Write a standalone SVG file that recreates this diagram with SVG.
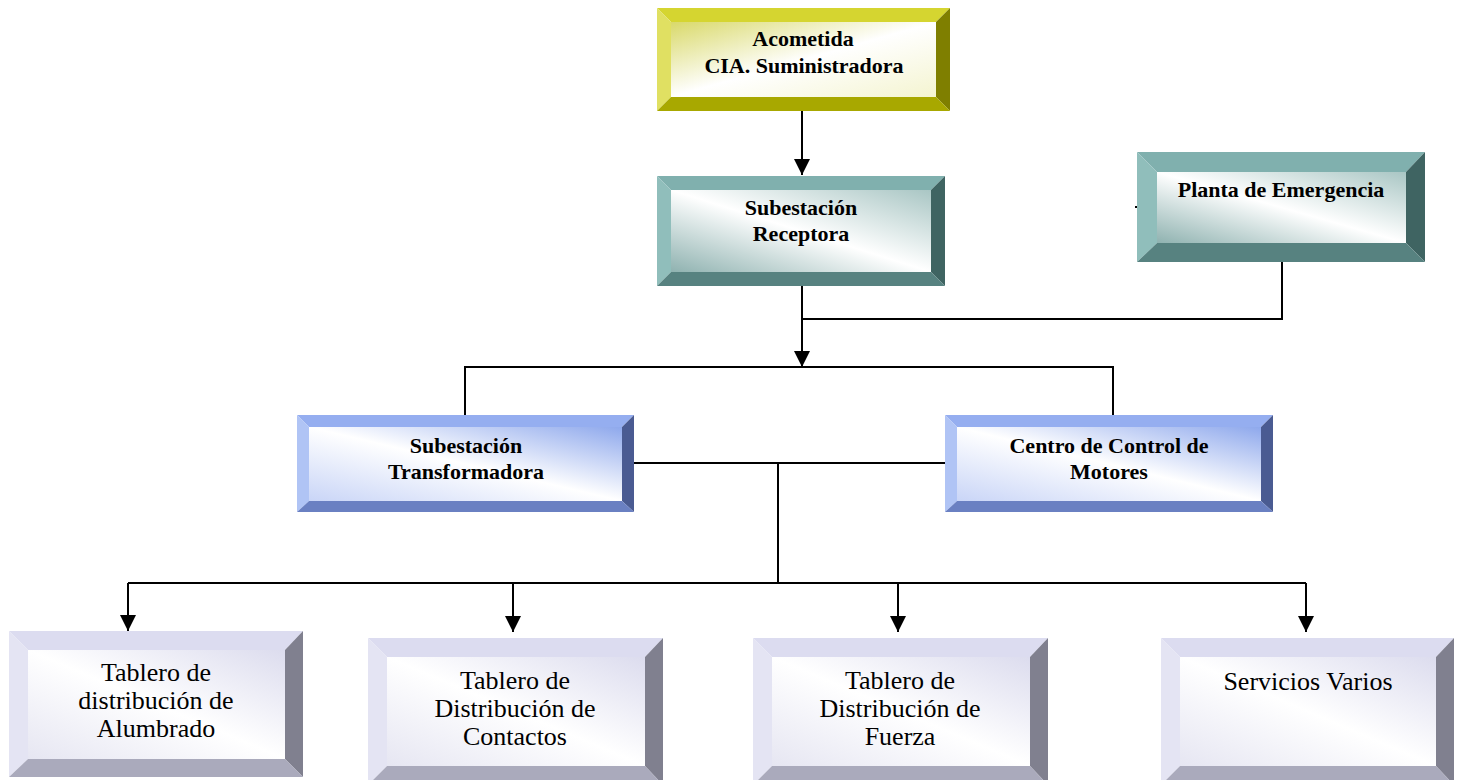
<svg xmlns="http://www.w3.org/2000/svg" width="1463" height="780" viewBox="0 0 1463 780">
<defs>
<linearGradient id="gY" x1="0" y1="0" x2="1" y2="1"><stop offset="0" stop-color="#d9d96a"/><stop offset="0.5" stop-color="#ffffff"/><stop offset="1" stop-color="#f4f4d0"/></linearGradient>
<linearGradient id="gT" x1="0" y1="1" x2="1" y2="0"><stop offset="0" stop-color="#8fb2b0"/><stop offset="0.5" stop-color="#ffffff"/><stop offset="1" stop-color="#a9c6c4"/></linearGradient>
<linearGradient id="gB" x1="0" y1="1" x2="1" y2="0"><stop offset="0" stop-color="#c9d5f7"/><stop offset="0.5" stop-color="#ffffff"/><stop offset="1" stop-color="#8ea8ec"/></linearGradient>
<linearGradient id="gL" x1="0" y1="1" x2="1" y2="0"><stop offset="0" stop-color="#e6e6f2"/><stop offset="0.5" stop-color="#ffffff"/><stop offset="1" stop-color="#dcdcee"/></linearGradient>
<marker id="ah" markerUnits="userSpaceOnUse" markerWidth="16" markerHeight="17" viewBox="-8 -16 16 17" refX="0" refY="0" orient="0">
<path d="M-8,-16 L8,-16 L0,0 Z" fill="#000"/>
</marker>
</defs>
<style>
.yt{fill:#d5d530}.yl{fill:#e0e062}.yr{fill:#7f7f00}.yb{fill:#a8a800}
.tt{fill:#80b0ae}.tl{fill:#90bebb}.tr{fill:#3f6462}.tb{fill:#578280}
.bt{fill:#95aef0}.bl{fill:#b0c4f5}.br{fill:#4a5b92}.bb{fill:#6a80c2}
.lt{fill:#dcdcf0}.ll{fill:#e4e4f3}.lr{fill:#80808f}.lb{fill:#aaaabc}
.hb{font-family:"Liberation Serif","Times New Roman",serif;font-weight:bold;font-size:22px;fill:#000;text-anchor:middle}
.hr{font-family:"Liberation Serif","Times New Roman",serif;font-size:26px;fill:#000;text-anchor:middle}
.c{fill:none;stroke:#000;stroke-width:2}
</style>
<rect width="1463" height="780" fill="#fff"/>

<g id="connectors">
<path class="c" d="M802,111 V175" marker-end="url(#ah)"/>
<path class="c" d="M802,286 V367" marker-end="url(#ah)"/>
<path class="c" d="M1282,262 V319 H802"/>
<path class="c" d="M465,415 V367 H1113 V415"/>
<path class="c" d="M633,463 H945"/>
<path class="c" d="M778,463 V583"/>
<path class="c" d="M128,583 H1306"/>
<path class="c" d="M128,583 V631" marker-end="url(#ah)"/>
<path class="c" d="M513,583 V632" marker-end="url(#ah)"/>
<path class="c" d="M898,583 V632" marker-end="url(#ah)"/>
<path class="c" d="M1306,583 V632" marker-end="url(#ah)"/>
<path class="c" d="M1135,207 H1138"/>
</g>

<g id="n1">
<rect x="671" y="22" width="265" height="75" fill="url(#gY)"/>
<polygon class="yt" points="657,8 950,8 936,22 671,22"/>
<polygon class="yl" points="657,8 671,22 671,97 657,111"/>
<polygon class="yr" points="950,8 950,111 936,97 936,22"/>
<polygon class="yb" points="657,111 671,97 936,97 950,111"/>
<text class="hb" x="803" y="46">Acometida</text>
<text class="hb" x="804" y="73">CIA. Suministradora</text>
</g>

<g id="n2">
<rect x="671" y="190" width="260" height="82" fill="url(#gT)"/>
<polygon class="tt" points="657,176 945,176 931,190 671,190"/>
<polygon class="tl" points="657,176 671,190 671,272 657,286"/>
<polygon class="tr" points="945,176 945,286 931,272 931,190"/>
<polygon class="tb" points="657,286 671,272 931,272 945,286"/>
<text class="hb" x="801" y="215">Subestación</text>
<text class="hb" x="801" y="241">Receptora</text>
</g>

<g id="n3">
<rect x="1157" y="172" width="249" height="71" fill="url(#gT)"/>
<polygon class="tt" points="1137,152 1425,152 1406,172 1157,172"/>
<polygon class="tl" points="1137,152 1157,172 1157,243 1137,262"/>
<polygon class="tr" points="1425,152 1425,262 1406,243 1406,172"/>
<polygon class="tb" points="1137,262 1157,243 1406,243 1425,262"/>
<text class="hb" x="1281" y="197">Planta de Emergencia</text>
</g>

<g id="n4">
<rect x="309" y="427" width="313" height="74" fill="url(#gB)"/>
<polygon class="bt" points="297,415 634,415 622,427 309,427"/>
<polygon class="bl" points="297,415 309,427 309,501 297,512"/>
<polygon class="br" points="634,415 634,512 622,501 622,427"/>
<polygon class="bb" points="297,512 309,501 622,501 634,512"/>
<text class="hb" x="466" y="453">Subestación</text>
<text class="hb" x="466" y="479">Transformadora</text>
</g>

<g id="n5">
<rect x="957" y="427" width="304" height="74" fill="url(#gB)"/>
<polygon class="bt" points="945,415 1273,415 1261,427 957,427"/>
<polygon class="bl" points="945,415 957,427 957,501 945,512"/>
<polygon class="br" points="1273,415 1273,512 1261,501 1261,427"/>
<polygon class="bb" points="945,512 957,501 1261,501 1273,512"/>
<text class="hb" x="1109" y="453">Centro de Control de</text>
<text class="hb" x="1109" y="479">Motores</text>
</g>

<g id="n6">
<rect x="28" y="650" width="257" height="109" fill="url(#gL)"/>
<polygon class="lt" points="9,631 303,631 285,650 28,650"/>
<polygon class="ll" points="9,631 28,650 28,759 9,777"/>
<polygon class="lr" points="303,631 303,777 285,759 285,650"/>
<polygon class="lb" points="9,777 28,759 285,759 303,777"/>
<text class="hr" x="156" y="681">Tablero de</text>
<text class="hr" x="156" y="709">distribución de</text>
<text class="hr" x="156" y="737">Alumbrado</text>
</g>

<g id="n7">
<rect x="387" y="657" width="258" height="109" fill="url(#gL)"/>
<polygon class="lt" points="368,638 663,638 645,657 387,657"/>
<polygon class="ll" points="368,638 387,657 387,766 368,785"/>
<polygon class="lr" points="663,638 663,785 645,766 645,657"/>
<polygon class="lb" points="368,785 387,766 645,766 663,785"/>
<text class="hr" x="515" y="689">Tablero de</text>
<text class="hr" x="515" y="717">Distribución de</text>
<text class="hr" x="515" y="745">Contactos</text>
</g>

<g id="n8">
<rect x="772" y="657" width="258" height="109" fill="url(#gL)"/>
<polygon class="lt" points="753,638 1048,638 1030,657 772,657"/>
<polygon class="ll" points="753,638 772,657 772,766 753,785"/>
<polygon class="lr" points="1048,638 1048,785 1030,766 1030,657"/>
<polygon class="lb" points="753,785 772,766 1030,766 1048,785"/>
<text class="hr" x="900" y="689">Tablero de</text>
<text class="hr" x="900" y="717">Distribución de</text>
<text class="hr" x="900" y="745">Fuerza</text>
</g>

<g id="n9">
<rect x="1180" y="657" width="256" height="109" fill="url(#gL)"/>
<polygon class="lt" points="1161,638 1454,638 1436,657 1180,657"/>
<polygon class="ll" points="1161,638 1180,657 1180,766 1161,785"/>
<polygon class="lr" points="1454,638 1454,785 1436,766 1436,657"/>
<polygon class="lb" points="1161,785 1180,766 1436,766 1454,785"/>
<text class="hr" x="1308" y="690">Servicios Varios</text>
</g>
</svg>
